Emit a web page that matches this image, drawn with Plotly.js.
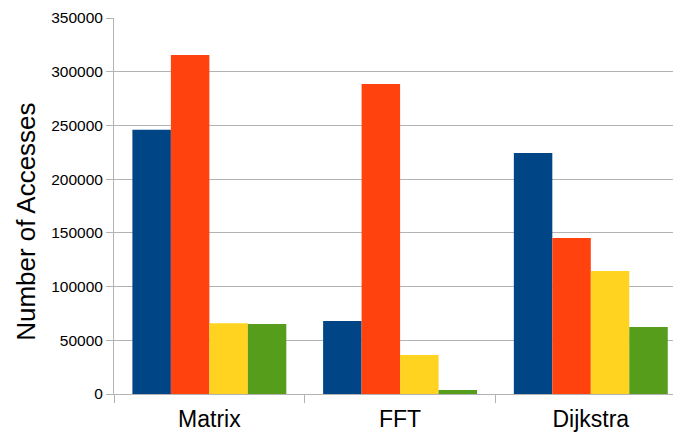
<!DOCTYPE html>
<html>
<head>
<meta charset="utf-8">
<script src="https://cdn.plot.ly/plotly-3.0.1.min.js"></script>
<style>
html, body { margin: 0; padding: 0; background: #ffffff; overflow: hidden; }
#chart { width: 673px; height: 432px; }
</style>
</head>
<body>
<div id="chart"></div>
<script>
const categories = ["Matrix", "FFT", "Dijkstra"];
const seriesNames = ["Series 1", "Series 2", "Series 3", "Series 4"];
const series1 = [246000, 68000, 224300];
const series2 = [315500, 288500, 145200];
const series3 = [65800, 36300, 114500];
const series4 = [65200, 3700, 62400];
const yTickValues = [0, 50000, 100000, 150000, 200000, 250000, 300000, 350000];
const yTickLabels = ["0", "50000", "100000", "150000", "200000", "250000", "300000", "350000"];
const yTitle = "Number of Accesses";

const colors = ["#004586", "#ff420e", "#ffd320", "#579d1c"];
const allSeries = [series1, series2, series3, series4];

const traces = allSeries.map((vals, i) => ({
  type: "bar",
  x: categories,
  y: vals,
  name: seriesNames[i],
  marker: { color: colors[i], line: { width: 0 } },
  hoverinfo: "x+y+name"
}));

const layout = {
  width: 673,
  height: 432,
  margin: { l: 114, r: 0, t: 18, b: 38, pad: 0 },
  paper_bgcolor: "#ffffff",
  plot_bgcolor: "#ffffff",
  showlegend: false,
  barmode: "group",
  bargap: 0.193,
  bargroupgap: 0,
  font: { family: "Liberation Sans, Arial, sans-serif", color: "#000000" },
  xaxis: {
    type: "category",
    range: [-0.5, 2.431],
    showgrid: false,
    showline: true,
    linecolor: "#b3b3b3",
    linewidth: 1,
    ticks: "outside",
    tickson: "boundaries",
    ticklen: 8,
    tickcolor: "#b3b3b3",
    tickwidth: 1,
    ticklabelstandoff: 4,
    tickfont: { size: 23, color: "#000000" },
    zeroline: false
  },
  yaxis: {
    range: [0, 350000],
    tickvals: yTickValues,
    ticktext: yTickLabels,
    showgrid: true,
    gridcolor: "#b3b3b3",
    gridwidth: 1,
    showline: true,
    linecolor: "#b3b3b3",
    linewidth: 1,
    ticks: "outside",
    ticklen: 7,
    tickcolor: "#b3b3b3",
    tickwidth: 1,
    tickfont: { size: 15.5, color: "#000000" },
    zeroline: false
  },
  annotations: [{
    text: yTitle,
    xref: "paper",
    yref: "paper",
    x: -0.158,
    y: 0.457,
    xanchor: "center",
    yanchor: "middle",
    textangle: -90,
    showarrow: false,
    font: { size: 26, color: "#000000" }
  }]
};

Plotly.newPlot("chart", traces, layout, { staticPlot: true, displayModeBar: false });
</script>
</body>
</html>
